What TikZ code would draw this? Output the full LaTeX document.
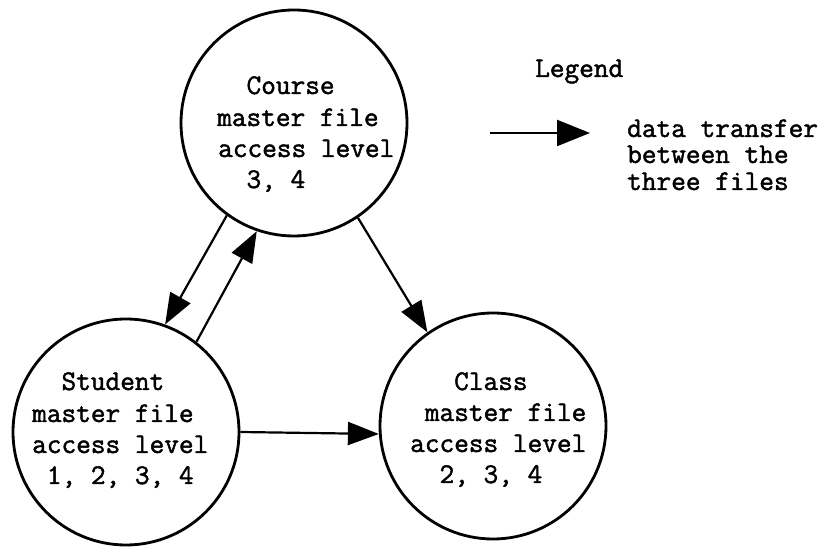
\documentclass[tikz,border=0pt]{standalone}
\usepackage{fontspec}
\newfontfamily\typew{Latin Modern Mono}[FakeBold=1.6]
\usetikzlibrary{arrows.meta}
\begin{document}
\begin{tikzpicture}[x=1pt,y=1pt,
  file/.style={circle, draw, line width=2.8pt, minimum size=226pt, inner sep=0pt},
  txt/.style={anchor=base west, inner sep=0pt, font=\typew\fontsize{28.5}{31}\selectfont},
  flow/.style={line width=2.2pt, -{Triangle[length=31pt,width=23pt]}},
]
\useasboundingbox (0,0) rectangle (822,548);
% circles
\node[file] (co) at (294,425) {};
\node[file] (st) at (126,116) {};
\node[file] (cl) at (493,122) {};
% course text
\node[txt] (co1) at (217,454) {~~Course};
\node[txt] (co2) at (217,422) {master file};
\node[txt] (co3) at (218,391) {access level};
\node[txt] (co4) at (217,360) {~~3, 4};
% student text
\node[txt] (st1) at (32,158) {~~Student};
\node[txt] (st2) at (32,126) {master file};
\node[txt] (st3) at (32,95) {access level};
\node[txt] (st4) at (32,64) {~1, 2, 3, 4};
% class text
\node[txt] (cl1) at (410,158) {~~~Class};
\node[txt] (cl2) at (410,127) {~master file};
\node[txt] (cl3) at (410,96) {access level};
\node[txt] (cl4) at (410,65) {~~2, 3, 4};
% connectors
\draw[flow] (co.234) -- (st.70.5);
\draw[flow] (st.52) -- (co.251);
\draw[flow] (co.304) -- (cl.125);
\draw[flow] (st.0) -- (cl.184);
% legend
\node[txt] (lg) at (535,471) {Legend};
\coordinate (la) at (490,415);
\coordinate (lb) at (590,415);
\draw[line width=2.2pt, -{Triangle[length=33pt,width=26pt]}] (la) -- (lb);
\node[txt] (l1) at (627,411) {data transfer};
\node[txt] (l2) at (627,385) {between the};
\node[txt] (l3) at (627,358) {three files};
\end{tikzpicture}
\end{document}
